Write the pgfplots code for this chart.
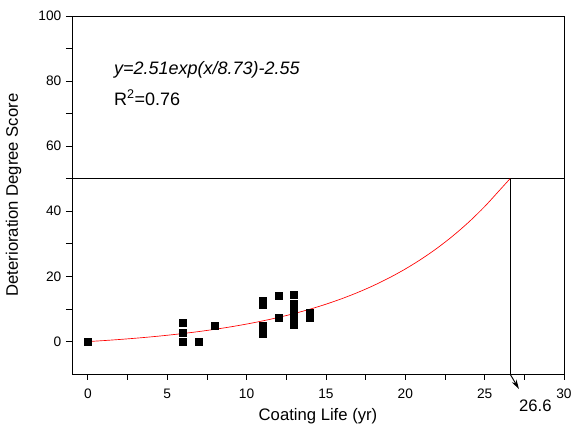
\documentclass[border=0pt]{standalone}
\usepackage{pgfplots}
\pgfplotsset{compat=1.18}
\usepackage{fontspec}
\setmainfont{Liberation Sans}
\usetikzlibrary{arrows.meta}

\pgfplotstableread{
x y
0 0
6 0
6 2.8
6 5.8
7 0
8 4.7
11 2.2
11 3.5
11 4.8
11 11.4
11 12.4
12 7.3
12 13.9
13 5.0
13 6.5
13 8.0
13 9.5
13 10.5
13 11.5
13 14.2
14 7.4
14 8.8
}\pts

\pgfplotstableread{
x y
0 -0.040
1 0.265
2 0.606
3 0.990
4 1.419
5 1.901
6 2.441
7 3.047
8 3.726
9 4.487
10 5.341
11 6.299
12 7.373
13 8.577
14 9.928
15 11.442
16 13.140
17 15.044
18 17.180
19 19.574
20 22.259
21 25.270
22 28.646
23 32.432
24 36.677
25 41.438
26 46.777
26.6 50.0
}\fit

\begin{document}
\begin{tikzpicture}
\useasboundingbox (-54pt,-45pt) rectangle (375pt,280.5pt);
\begin{axis}[
  at={(0,0)}, anchor=south west,
  scale only axis, width=369pt, height=268.5pt,
  xmin=-1, xmax=30, ymin=-10, ymax=100,
  xtick={0,5,...,30}, ytick={0,20,...,100},
  minor x tick num=1, minor y tick num=1,
  tick align=outside, tick pos=left,
  major tick length=4.5pt, minor tick length=4.5pt,
  every tick/.style={black, line width=0.6pt},
  axis line style={black, line width=0.6pt},
  /pgf/number format/assume math mode=true,
  ticklabel style={font=\fontsize{10.3}{12}\selectfont},
  xticklabel style={yshift=-3pt},
  xlabel={Coating Life (yr)}, ylabel={Deterioration Degree Score},
  label style={font=\fontsize{12.5}{14}\selectfont},
  xlabel style={yshift=-1pt},
  ylabel style={yshift=6pt},
  clip=false,
]
\addplot[black, line width=0.6pt] coordinates {(-1,50) (30,50)};
\addplot[black, line width=0.6pt] coordinates {(26.6,50) (26.6,-10)};
\addplot[black, line width=0.7pt, -{Stealth[length=7pt,width=4pt]}] coordinates {(26.6,-10) (27.16,-14.6)};
\addplot[red, line width=0.5pt, smooth] table[x=x,y=y] {\fit};
\addplot[only marks, mark=square*, mark size=2.6pt, black] table[x=x,y=y] {\pts};
\node[anchor=west, font=\fontsize{13.5}{15}\selectfont\itshape] at (axis cs:1.35,83.4) {y=2.51exp(x/8.73)-2.55};
\node[anchor=west, font=\fontsize{13.5}{15}\selectfont] at (axis cs:1.35,75) {R\textsuperscript{2}=0.76};
\node[font=\fontsize{12.5}{14}\selectfont] at (axis cs:28.2,-19.7) {26.6};
\end{axis}
\end{tikzpicture}
\end{document}
